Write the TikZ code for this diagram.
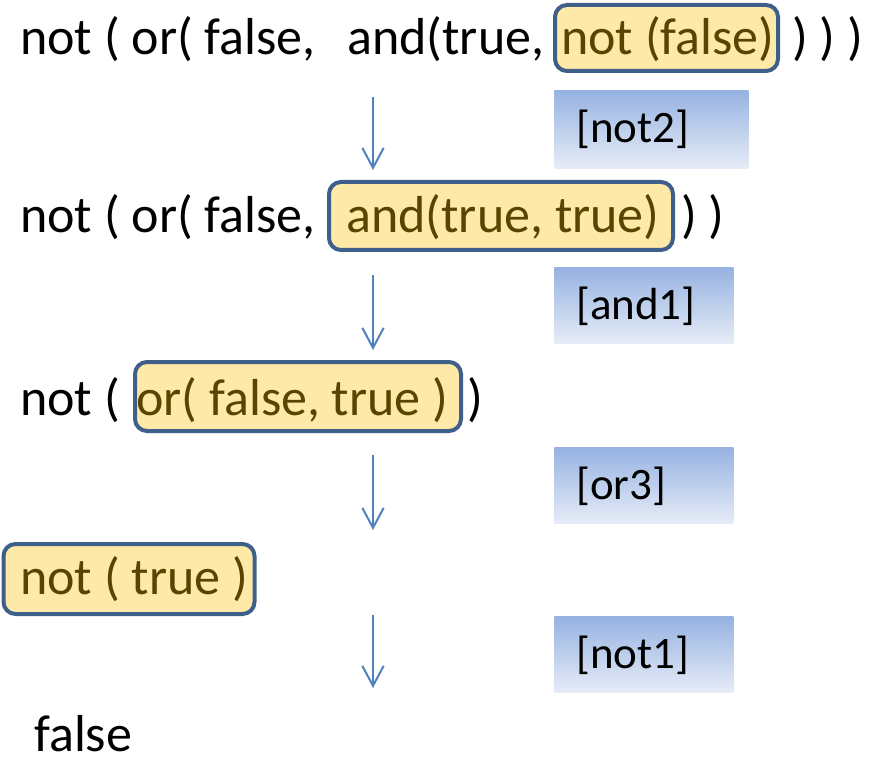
\documentclass[tikz,border=0pt]{standalone}
\usepackage{fontspec}
\setmainfont{Carlito}
\usetikzlibrary{arrows.meta}
\definecolor{boxfill}{HTML}{FFE9A8}
\definecolor{boxline}{HTML}{3E5F8A}
\definecolor{boxtext}{HTML}{5A4500}
\definecolor{arrowc}{HTML}{4F81BD}
\definecolor{labtop}{HTML}{96B2E2}
\definecolor{labbot}{HTML}{E6ECF7}
\tikzset{
  redex/.style={draw=boxline, line width=3pt, fill=boxfill, rounded corners=9pt, inner sep=0pt},
  expr/.style={anchor=base west, inner sep=0pt, font=\fontsize{39}{46}\selectfont},
  hl/.style={expr, text=boxtext},
  rulebox/.style={anchor=north west, inner sep=0pt, top color=labtop, bottom color=labbot, draw=none},
  ruletext/.style={anchor=base west, inner sep=0pt, font=\fontsize{33.75}{40}\selectfont},
  steparrow/.style={draw=arrowc, line width=1.5pt, -{Straight Barb[length=15pt,width=16pt,line width=1.5pt]}}
}
\begin{document}
\begin{tikzpicture}[x=0.75pt,y=-0.75pt]
\useasboundingbox (0,0) rectangle (881,759);
% line 1
\node[redex, minimum width={223*0.75pt}, minimum height={66*0.75pt}] (r1) at (666.5,38) {};
\node[expr] (t1a) at (20,55) {not ( or( false,};
\node[expr] (t1b) at (347,55) {and(true,};
\node[hl] (t1c) at (561,55) {not (false)};
\node[expr] (t1d) at (792,55) {) ) )};
% line 2
\node[redex, minimum width={344*0.75pt}, minimum height={68*0.75pt}] (r2) at (501,216) {};
\node[expr] (t2a) at (20,233) {not ( or( false,};
\node[hl] (t2b) at (346,233) {and(true, true)};
\node[expr] (t2c) at (681,233) {) )};
% line 3
\node[redex, minimum width={326*0.75pt}, minimum height={69*0.75pt}] (r3) at (298,396.5) {};
\node[expr] (t3a) at (20,415) {not (};
\node[hl] (t3b) at (136,415) {or( false, true )};
\node[expr] (t3c) at (467,415) {)};
% line 4
\node[redex, minimum width={251*0.75pt}, minimum height={70*0.75pt}] (r4) at (129,579) {};
\node[hl] (t4a) at (20,594) {not ( true )};
% line 5
\node[expr] (t5a) at (34,751) {false};
% rule labels
\node[rulebox, minimum width={194*0.75pt}, minimum height={78*0.75pt}] (l1) at (554,90) {};
\node[ruletext] (l1t) at (576,143) {[not2]};
\node[rulebox, minimum width={179*0.75pt}, minimum height={76*0.75pt}] (l2) at (554,267) {};
\node[ruletext] (l2t) at (576,319) {[and1]};
\node[rulebox, minimum width={179*0.75pt}, minimum height={76*0.75pt}] (l3) at (554,447) {};
\node[ruletext] (l3t) at (576,499) {[or3]};
\node[rulebox, minimum width={179*0.75pt}, minimum height={76*0.75pt}] (l4) at (554,616) {};
\node[ruletext] (l4t) at (576,668) {[not1]};
% arrows
\coordinate (a1s) at (373,97);  \coordinate (a1e) at (373,170);
\coordinate (a2s) at (373,275); \coordinate (a2e) at (373,350);
\coordinate (a3s) at (373,455); \coordinate (a3e) at (373,530);
\coordinate (a4s) at (373,615); \coordinate (a4e) at (373,688);
\draw[steparrow] (a1s) -- (a1e);
\draw[steparrow] (a2s) -- (a2e);
\draw[steparrow] (a3s) -- (a3e);
\draw[steparrow] (a4s) -- (a4e);
\end{tikzpicture}
\end{document}
